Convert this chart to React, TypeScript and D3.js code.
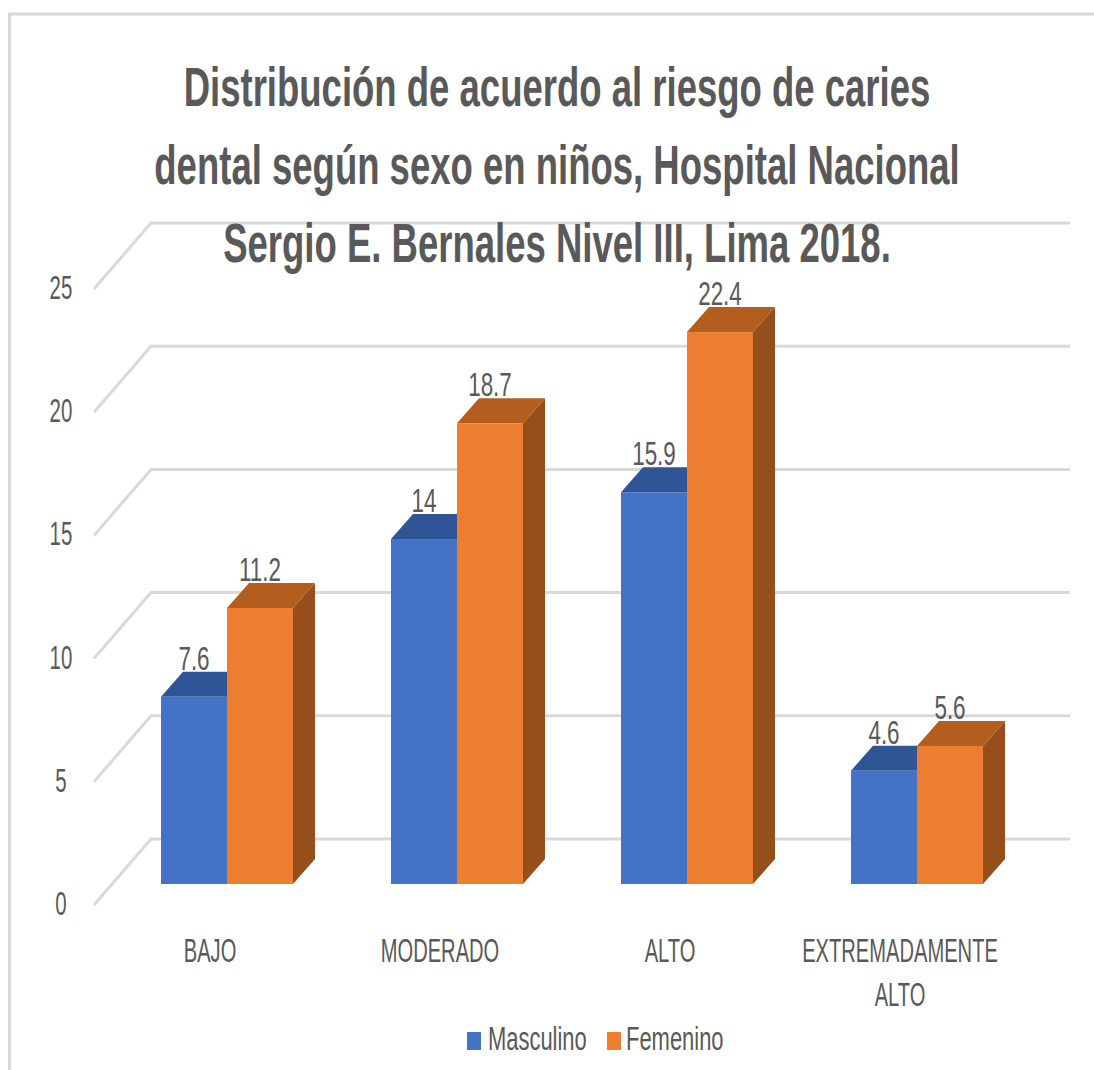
import React from "react";
import * as d3 from "d3";

const categories = ["BAJO", "MODERADO", "ALTO", "EXTREMADAMENTE ALTO"];
const seriesNames = ["Masculino", "Femenino"];
const masculino = [7.6, 14, 15.9, 4.6];
const femenino = [11.2, 18.7, 22.4, 5.6];
const yTicks = [0, 5, 10, 15, 20, 25];
const titleLines = [
  "Distribución de acuerdo al riesgo de caries",
  "dental según sexo en niños, Hospital Nacional",
  "Sergio E. Bernales Nivel III, Lima 2018.",
];

const FONT = "'Liberation Sans Narrow', 'Liberation Sans', sans-serif";
const GRAY = "#595959";
const GRID = "#d9d9d9";
const colors = [
  { front: "#4472c4", top: "#2f5597" },
  { front: "#ed7d31", top: "#b35d1f", side: "#964f1b" },
];

// fake 3D: how far the bar's back edge sits from its front edge
const DX = 22;
const DY = -25;
const BACK_X = 151;
const FRONT_X = 94;
const BACK_DY = -45;
const FRONT_DY = 21;

function Label({ x, y, sx = 0.68, size = 33, anchor = "middle", children }: any) {
  return (
    <text
      transform={`translate(${x},${y}) scale(${sx},1)`}
      textAnchor={anchor}
      fontFamily={FONT}
      fontSize={size}
      fill={GRAY}
    >
      {children}
    </text>
  );
}

export default function App() {
  const y = d3.scaleLinear().domain([0, 25]).range([884, 268]);
  const x0 = d3.scaleBand().domain(categories).range([112, 1032]);
  const x1 = d3.scaleBand().domain(seriesNames).range([49, 181]);
  const values = [masculino, femenino];
  const titleBase = d3.scaleLinear().domain([0, 2]).range([106, 262]);

  return (
    <svg
      width={1094}
      height={1070}
      style={{ position: "absolute", left: 0, top: 0, background: "#fff" }}
    >
      {/* chart frame */}
      <path d="M1094,14H9.5V1070" fill="none" stroke={GRID} strokeWidth={3} />

      {/* walls */}
      {yTicks.map((t) => (
        <g key={t}>
          <path
            d={`M${FRONT_X},${y(t) + FRONT_DY}L${BACK_X},${y(t) + BACK_DY}H1070`}
            fill="none"
            stroke={GRID}
            strokeWidth={3}
          />
          <Label x={61} y={y(t) + 31} sx={0.62}>{t}</Label>
        </g>
      ))}

      {/* bars */}
      {categories.map((c, i) => (
        <g key={c}>
          {seriesNames.map((s, j) => {
            const left = x0(c)! + x1(s)!;
            const w = x1.bandwidth();
            const top = y(values[j][i]);
            const right = left + w;
            return (
              <g key={s}>
                <path
                  d={`M${right},${top}l${DX},${DY}V${y(0) + DY}L${right},${y(0)}Z`}
                  fill={colors[1].side}
                />
                <path
                  d={`M${left},${top}l${DX},${DY}H${right + DX}L${right},${top}Z`}
                  fill={colors[j].top}
                />
                <rect x={left} y={top} width={w} height={y(0) - top} fill={colors[j].front} />
              </g>
            );
          })}
        </g>
      ))}

      {/* value labels above the bars */}
      {categories.map((c, i) =>
        seriesNames.map((s, j) => (
          <Label
            key={s}
            x={x0(c)! + x1(s)! + x1.bandwidth() / 2}
            y={y(values[j][i]) - 27}
          >
            {values[j][i]}
          </Label>
        ))
      )}

      {/* category labels */}
      {categories.map((c) => {
        const cx = x0(c)! + x0.bandwidth() / 2 - 17;
        if (c === "EXTREMADAMENTE ALTO") {
          return (
            <g key={c}>
              <Label x={cx} y={962} sx={0.61}>EXTREMADAMENTE</Label>
              <Label x={cx} y={1006} sx={0.61}>ALTO</Label>
            </g>
          );
        }
        return <Label key={c} x={cx} y={962} sx={0.61}>{c}</Label>;
      })}

      {/* legend */}
      <rect x={467} y={1032} width={14} height={18} fill={colors[0].front} />
      <Label x={488} y={1050} anchor="start" sx={0.665}>{seriesNames[0]}</Label>
      <rect x={607} y={1032} width={14} height={18} fill={colors[1].front} />
      <Label x={626} y={1050} anchor="start" sx={0.665}>{seriesNames[1]}</Label>

      {/* title sits on top of the last gridline */}
      {titleLines.map((line, i) => (
        <text
          key={line}
          transform={`translate(557,${titleBase(i)}) scale(0.652,1)`}
          textAnchor="middle"
          fontFamily="'Liberation Sans', sans-serif"
          fontWeight="bold"
          fontSize={56}
          fill={GRAY}
        >
          {line}
        </text>
      ))}
    </svg>
  );
}
